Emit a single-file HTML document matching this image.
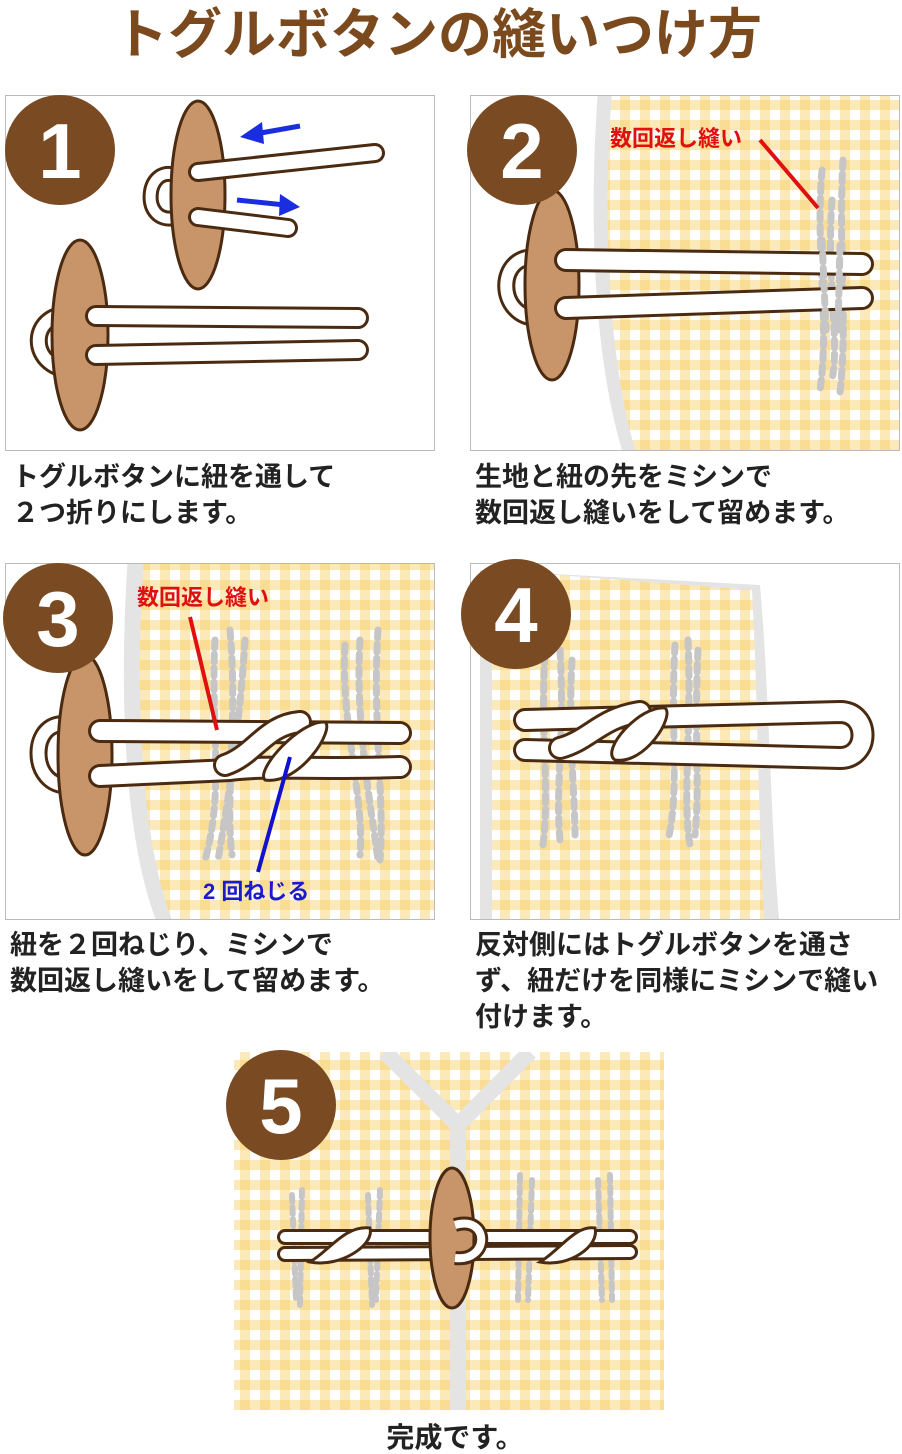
<!DOCTYPE html>
<html><head><meta charset="utf-8"><style>
html,body{margin:0;padding:0;background:#fff;}
svg{display:block;}
text{font-family:"Liberation Sans","Noto Sans CJK JP",sans-serif;font-weight:bold;}
</style></head><body>
<svg width="902" height="1454" viewBox="0 0 902 1454" xmlns="http://www.w3.org/2000/svg">
<defs>
<pattern id="g" width="20" height="20" patternUnits="userSpaceOnUse">
<rect width="20" height="20" fill="#fff"/>
<rect width="10" height="20" fill="#f8d06a" opacity="0.47"/>
<rect width="20" height="10" fill="#f8d06a" opacity="0.47"/>
</pattern>
<clipPath id="c2"><rect x="471" y="96" width="428" height="354"/></clipPath>
<clipPath id="c3"><rect x="6" y="564" width="428" height="355"/></clipPath>
<clipPath id="c4"><rect x="471" y="564" width="428" height="355"/></clipPath>
<clipPath id="c5"><rect x="234" y="1052" width="430" height="358"/></clipPath>
</defs>

<text x="438" y="53" font-size="54" fill="#7a4a1e" text-anchor="middle">トグルボタンの縫いつけ方</text>

<!-- Panel 1 -->
<rect x="5.5" y="95.5" width="429" height="355" fill="#fff" stroke="#bbb"/>
<g stroke-linecap="round" fill="none">
<path d="M175 175 C145 165 140 225 175 218" stroke="#4a2a10" stroke-width="16"/>
<path d="M175 175 C145 165 140 225 175 218" stroke="#fff" stroke-width="10"/>
</g>
<ellipse cx="198" cy="195" rx="27" ry="94" fill="#c8956a" stroke="#4a2a10" stroke-width="3"/>
<g stroke-linecap="round" fill="none">
<path d="M198 172 L375 153" stroke="#4a2a10" stroke-width="20"/><path d="M198 172 L375 153" stroke="#fff" stroke-width="14"/>
<path d="M198 217 L288 228" stroke="#4a2a10" stroke-width="20"/><path d="M198 217 L288 228" stroke="#fff" stroke-width="14"/>
</g>
<g stroke="#1a2ee0" stroke-width="5" fill="#1a2ee0">
<line x1="300" y1="126" x2="255" y2="134"/><polygon points="240,137 262,122 264,144" stroke="none"/>
<line x1="237" y1="200" x2="285" y2="205"/><polygon points="300,207 280,194 279,216" stroke="none"/>
</g>
<g stroke-linecap="round" fill="none">
<path d="M80 315 C25 305 25 375 80 370" stroke="#4a2a10" stroke-width="18"/><path d="M80 315 C25 305 25 375 80 370" stroke="#fff" stroke-width="12"/>
</g>
<ellipse cx="80" cy="335" rx="28" ry="95" fill="#c8956a" stroke="#4a2a10" stroke-width="3"/>
<g stroke-linecap="round" fill="none">
<path d="M96 316 L358 318" stroke="#4a2a10" stroke-width="22"/><path d="M96 316 L358 318" stroke="#fff" stroke-width="16"/>
<path d="M96 355 L358 350" stroke="#4a2a10" stroke-width="22"/><path d="M96 355 L358 350" stroke="#fff" stroke-width="16"/>
</g>
<circle cx="60" cy="150" r="55" fill="#7a4a22"/>
<text x="60" y="178" font-size="78" fill="#fff" text-anchor="middle">1</text>

<!-- Panel 2 -->
<rect x="470.5" y="95.5" width="429" height="355" fill="#fff" stroke="#bbb"/>
<g clip-path="url(#c2)">
<path d="M598 90 C590 200 590 350 625 460 L910 460 L910 90Z" fill="#e4e4e4"/>
<path d="M612 90 C604 200 604 350 638 460 L910 460 L910 90Z" fill="url(#g)"/>
<g stroke="#c6c6c6" stroke-width="7" stroke-dasharray="8 6" stroke-linecap="round" fill="none">
<path d="M822 170 C815 250 830 320 820 390"/><path d="M843 160 C838 250 848 320 840 392"/><path d="M832 200 C826 280 840 340 832 380"/>
</g>
<g stroke-linecap="round" fill="none">
<path d="M540 258 C495 250 495 320 540 318" stroke="#4a2a10" stroke-width="18"/><path d="M540 258 C495 250 495 320 540 318" stroke="#fff" stroke-width="12"/>
</g>
<ellipse cx="552" cy="285" rx="27" ry="95" fill="#c8956a" stroke="#4a2a10" stroke-width="3"/>
<g stroke-linecap="round" fill="none">
<path d="M566 260 L862 264" stroke="#4a2a10" stroke-width="24"/><path d="M566 260 L862 264" stroke="#fff" stroke-width="18"/>
<path d="M566 308 L862 298" stroke="#4a2a10" stroke-width="24"/><path d="M566 308 L862 298" stroke="#fff" stroke-width="18"/>
</g>
<g stroke="#c6c6c6" stroke-width="7" stroke-dasharray="8 6" stroke-linecap="round"><line x1="822" y1="240" x2="826" y2="330"/><line x1="840" y1="245" x2="838" y2="330"/></g>
<line x1="760" y1="140" x2="818" y2="208" stroke="#e01010" stroke-width="4"/>
<text x="610" y="146" font-size="22" fill="#e01010">数回返し縫い</text>
</g>
<circle cx="522" cy="150" r="55" fill="#7a4a22"/>
<text x="522" y="178" font-size="78" fill="#fff" text-anchor="middle">2</text>

<g font-size="27" fill="#222">
<text x="12" y="486">トグルボタンに紐を通して</text>
<text x="12" y="522">２つ折りにします。</text>
<text x="475" y="486">生地と紐の先をミシンで</text>
<text x="475" y="522">数回返し縫いをして留めます。</text>
</g>

<!-- Panel 3 -->
<rect x="5.5" y="563.5" width="429" height="356" fill="#fff" stroke="#bbb"/>
<g clip-path="url(#c3)">
<path d="M128 555 C118 700 125 850 160 930 L440 930 L440 555Z" fill="#e4e4e4"/>
<path d="M144 555 C134 700 141 850 176 930 L440 930 L440 555Z" fill="url(#g)"/>
<g stroke="#c6c6c6" stroke-width="7" stroke-dasharray="8 6" stroke-linecap="round" fill="none">
<path d="M215 640 C210 720 225 790 205 860"/><path d="M230 630 C238 720 225 800 232 855"/><path d="M245 640 C240 720 230 790 218 860"/>
<path d="M345 645 C340 720 365 800 360 855"/><path d="M360 640 C355 720 370 800 378 860"/><path d="M378 630 C372 720 385 800 380 860"/>
</g>
<g stroke-linecap="round" fill="none">
<path d="M70 725 C28 715 28 790 70 785" stroke="#4a2a10" stroke-width="18"/><path d="M70 725 C28 715 28 790 70 785" stroke="#fff" stroke-width="12"/>
</g>
<ellipse cx="85" cy="755" rx="27" ry="100" fill="#c8956a" stroke="#4a2a10" stroke-width="3"/>
<g stroke-linecap="round" fill="none">
<path d="M100 731 L400 733" stroke="#4a2a10" stroke-width="24"/><path d="M100 731 L400 733" stroke="#fff" stroke-width="18"/>
<path d="M100 776 L230 770 C270 765 300 770 400 767" stroke="#4a2a10" stroke-width="24"/><path d="M100 776 L230 770 C270 765 300 770 400 767" stroke="#fff" stroke-width="18"/>
<path d="M225 765 C255 755 265 725 300 722" stroke="#4a2a10" stroke-width="24"/><path d="M225 765 C255 755 265 725 300 722" stroke="#fff" stroke-width="18"/>
</g>
<path d="M265 780 C255 770 300 720 325 722 C335 730 300 785 265 780Z" fill="#fff" stroke="#4a2a10" stroke-width="3"/>
<line x1="190" y1="617" x2="217" y2="730" stroke="#e01010" stroke-width="4"/>
<line x1="290" y1="757" x2="258" y2="872" stroke="#1010d0" stroke-width="4"/>
<text x="137" y="605" font-size="22" fill="#e01010">数回返し縫い</text>
<text x="203" y="899" font-size="22" fill="#1a1ad0">2 回ねじる</text>
</g>
<circle cx="58" cy="618" r="55" fill="#7a4a22"/>
<text x="58" y="646" font-size="78" fill="#fff" text-anchor="middle">3</text>

<!-- Panel 4 -->
<rect x="470.5" y="563.5" width="429" height="356" fill="#fff" stroke="#bbb"/>
<g clip-path="url(#c4)">
<path d="M480 570 L760 585 C770 700 770 820 780 930 L480 930Z" fill="#e4e4e4"/>
<path d="M492 570 L752 590 C758 700 758 820 765 930 L492 930Z" fill="url(#g)"/>
<g stroke="#c6c6c6" stroke-width="7" stroke-dasharray="8 6" stroke-linecap="round" fill="none">
<path d="M545 655 C540 730 550 790 543 845"/><path d="M560 650 C565 730 555 790 560 840"/><path d="M572 660 C568 730 575 800 575 835"/>
<path d="M675 645 C670 730 680 790 668 840"/><path d="M688 640 C692 730 682 800 690 845"/><path d="M698 650 C694 730 700 790 695 835"/>
</g>
<g stroke-linecap="round" fill="none">
<path d="M525 720 L840 712 C870 712 870 758 840 758 L525 750" stroke="#4a2a10" stroke-width="24"/>
<path d="M525 720 L840 712 C870 712 870 758 840 758 L525 750" stroke="#fff" stroke-width="18"/>
<path d="M560 748 C590 740 600 718 640 712" stroke="#4a2a10" stroke-width="24"/><path d="M560 748 C590 740 600 718 640 712" stroke="#fff" stroke-width="18"/>
</g>
<path d="M615 760 C600 750 640 705 665 708 C675 716 645 765 615 760Z" fill="#fff" stroke="#4a2a10" stroke-width="3"/>
</g>
<circle cx="516" cy="614" r="55" fill="#7a4a22"/>
<text x="516" y="642" font-size="78" fill="#fff" text-anchor="middle">4</text>

<g font-size="27" fill="#222">
<text x="10" y="954">紐を２回ねじり、ミシンで</text>
<text x="10" y="990">数回返し縫いをして留めます。</text>
<text x="475" y="954">反対側にはトグルボタンを通さ</text>
<text x="475" y="990">ず、紐だけを同様にミシンで縫い</text>
<text x="475" y="1026">付けます。</text>
</g>

<!-- Panel 5 -->
<g clip-path="url(#c5)">
<rect x="234" y="1052" width="430" height="358" fill="url(#g)"/>
<path d="M385 1052 L458 1125 L530 1052" fill="none" stroke="#e4e4e4" stroke-width="16"/>
<rect x="450" y="1120" width="16" height="300" fill="#e4e4e4"/>
<g stroke="#c6c6c6" stroke-width="6" stroke-dasharray="7 5" stroke-linecap="round" fill="none">
<line x1="292" y1="1195" x2="296" y2="1300"/><line x1="302" y1="1190" x2="300" y2="1305"/>
<line x1="368" y1="1195" x2="372" y2="1305"/><line x1="380" y1="1190" x2="376" y2="1300"/>
<line x1="520" y1="1175" x2="518" y2="1300"/><line x1="532" y1="1180" x2="528" y2="1300"/>
<line x1="598" y1="1180" x2="602" y2="1300"/><line x1="610" y1="1175" x2="612" y2="1300"/>
</g>
<g stroke-linecap="round" fill="none">
<path d="M285 1237 L630 1237" stroke="#4a2a10" stroke-width="16"/><path d="M285 1237 L630 1237" stroke="#fff" stroke-width="10"/>
<path d="M285 1254 L630 1252" stroke="#4a2a10" stroke-width="16"/><path d="M285 1254 L630 1252" stroke="#fff" stroke-width="10"/>
</g>
<path d="M310 1262 C330 1250 345 1225 370 1228 C375 1245 340 1268 310 1262Z" fill="#fff" stroke="#4a2a10" stroke-width="3"/>
<path d="M540 1262 C560 1250 575 1225 595 1228 C600 1245 570 1268 540 1262Z" fill="#fff" stroke="#4a2a10" stroke-width="3"/>
<ellipse cx="452" cy="1238" rx="22" ry="70" fill="#c8956a" stroke="#4a2a10" stroke-width="3"/>
<path d="M455 1225 C490 1215 490 1262 455 1258" fill="none" stroke="#4a2a10" stroke-width="14"/>
<path d="M455 1225 C490 1215 490 1262 455 1258" fill="none" stroke="#fff" stroke-width="8"/>
</g>
<circle cx="281" cy="1105" r="55" fill="#7a4a22"/>
<text x="281" y="1133" font-size="78" fill="#fff" text-anchor="middle">5</text>
<text x="455" y="1447" font-size="28" fill="#222" text-anchor="middle">完成です。</text>
</svg>
</body></html>
